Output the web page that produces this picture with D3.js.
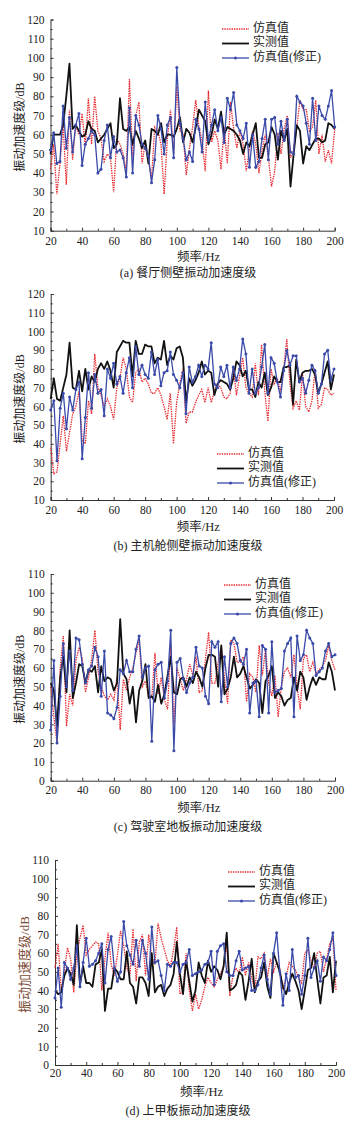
<!DOCTYPE html>
<html><head><meta charset="utf-8">
<script src="https://cdn.jsdelivr.net/npm/d3@7"></script>
<style>
html,body{margin:0;padding:0;background:#fff;}
svg{display:block;}
</style></head>
<body>
<svg id="chart" width="358" height="1130"></svg>
<script>
const freqs = [20,22,24,26,28,30,32,34,36,38,40,42,44,46,48,50,52,54,56,58,60,62,64,66,68,70,72,74,76,78,80,82,84,86,88,90,92,94,96,98,100,102,104,106,108,110,112,114,116,118,120,122,124,126,128,130,132,134,136,138,140,142,144,146,148,150,152,154,156,158,160,162,164,166,168,170,172,174,176,178,180,182,184,186,188,190,192,194,196,198,200];
const xTicks = [20,40,60,80,100,120,140,160,180,200];
const seriesNames = ["仿真值","实测值","仿真值(修正)"];

// Panel (a)
const aSim  = [42,55,29,45,65,34,73,47,65,60,71,54,79,55,80,62,58,46,50,48,30,58,55,50,41,89,48,70,77,45,56,47,37,64,62,55,29,58,73,50,85,62,60,39,53,64,78,64,57,41,83,56,62,57,42,64,45,77,63,53,62,55,41,53,62,55,40,52,60,48,33,41,61,50,63,70,48,52,64,78,73,73,62,64,78,50,60,46,52,45,63];
const aMeas = [50,60,60,60,65,80,97,63,65,62,59,60,67,63,62,56,58,60,63,66,53,55,79,63,62,64,55,62,58,53,57,45,63,62,60,66,56,60,60,59,63,69,56,63,61,56,64,73,70,67,55,60,68,63,72,60,64,63,62,60,57,50,56,54,60,66,48,48,55,56,64,60,47,62,57,63,33,50,65,62,45,54,52,55,58,58,56,57,66,65,63];
const aCorr = [52,61,45,46,75,53,69,51,65,71,44,55,58,62,60,40,42,57,65,48,59,51,52,48,38,74,40,70,65,55,53,49,35,47,70,63,50,65,69,48,95,66,58,47,51,46,68,63,51,77,57,65,73,62,69,56,79,73,82,65,62,58,66,43,60,43,46,58,68,47,68,69,55,67,57,68,51,50,80,77,75,66,55,79,57,75,70,68,75,83,64];

// Panel (b)
const bSim  = [38,24,25,40,55,36,46,56,60,68,42,40,63,56,88,70,66,60,64,60,53,70,75,86,80,65,62,78,80,73,75,72,67,67,70,66,60,53,67,40,62,72,80,51,57,57,62,66,69,62,70,62,68,72,70,65,64,67,81,66,76,86,70,67,65,83,66,93,68,52,80,72,75,68,80,96,72,59,63,58,77,60,57,63,80,59,61,70,69,66,67];
const bMeas = [64,75,64,63,70,77,94,70,69,79,68,80,69,76,73,80,83,80,84,79,70,89,92,95,94,94,76,95,88,88,93,92,92,83,86,85,95,82,87,85,91,92,86,62,75,71,74,78,84,77,79,78,66,72,74,73,72,69,75,84,82,76,79,69,69,65,73,70,78,66,70,76,73,73,81,81,82,61,85,73,78,79,79,80,77,67,72,78,84,69,77];
const bCorr = [58,63,31,59,67,48,65,58,69,73,32,54,78,59,77,67,69,55,80,75,83,72,76,67,78,86,70,92,77,82,77,75,89,77,85,71,78,79,89,77,74,70,78,56,81,73,76,82,76,82,80,94,72,70,81,76,82,70,81,74,80,96,88,67,80,67,70,81,93,67,86,83,73,65,79,90,82,87,87,73,75,67,74,82,79,67,72,88,90,74,80];

// Panel (c)
const cSim  = [50,34,20,60,77,29,46,40,64,71,65,47,55,65,80,58,50,45,43,46,43,55,27,54,48,55,60,68,75,50,53,45,44,68,46,55,43,38,73,30,60,54,48,54,62,56,66,47,48,65,79,52,52,63,71,55,41,75,73,63,63,66,42,57,55,47,72,56,70,52,45,56,34,50,58,60,55,67,50,38,65,67,58,63,57,59,61,64,72,64,59];
const cMeas = [52,48,29,55,66,47,80,44,52,62,61,52,59,58,61,47,61,53,55,54,48,52,86,57,54,41,50,31,48,53,62,44,45,42,51,41,46,56,66,47,46,54,55,50,55,52,58,55,50,60,67,67,66,50,72,46,49,55,66,55,57,61,55,49,51,54,52,36,53,56,61,44,47,45,40,43,44,55,48,58,55,43,50,55,51,55,54,54,63,58,48];
const cCorr = [27,64,20,45,73,50,69,48,76,75,62,52,59,61,71,66,45,69,36,35,33,39,59,57,64,58,58,70,77,55,60,61,21,59,62,63,44,53,80,16,63,65,54,47,52,55,71,61,60,45,41,74,71,74,42,66,50,73,76,73,64,62,70,36,52,53,34,72,70,36,74,47,48,49,69,73,76,34,77,64,67,80,76,73,56,58,60,69,73,66,67];

// Panel (d)
const dSim  = [52,65,40,50,63,57,39,60,68,75,59,62,64,66,65,40,57,71,54,48,59,72,64,52,48,73,45,66,70,48,70,58,54,76,68,62,56,53,62,74,38,40,60,40,29,38,30,35,42,47,44,42,46,49,53,65,37,48,52,49,58,48,55,47,40,58,57,60,47,57,50,55,52,40,47,55,53,51,47,44,60,62,56,52,60,61,50,57,65,68,40];
const dMeas = [40,38,39,48,52,49,43,75,43,53,44,44,42,54,55,62,29,41,41,52,50,46,46,61,44,42,33,47,47,44,37,60,39,42,43,37,41,43,49,66,49,38,56,45,34,40,55,48,44,56,50,53,51,46,53,71,40,41,43,50,48,35,45,57,39,45,47,55,42,36,60,55,50,42,38,44,49,45,40,30,40,51,52,60,46,33,47,48,58,39,56];
const dCorr = [36,52,31,55,52,46,52,64,42,55,68,53,54,56,60,65,44,62,69,52,45,50,77,64,59,54,67,53,67,60,46,74,55,56,48,40,54,53,55,55,50,54,55,62,48,49,50,51,54,55,61,43,61,64,65,50,48,48,56,61,51,52,53,40,40,43,52,59,46,38,60,71,50,32,49,40,62,47,48,38,48,68,47,52,56,45,58,56,62,71,48];

const panels = [
  {sim:aSim, meas:aMeas, corr:aCorr, yMin:10, yMax:120, yTicks:[10,20,30,40,50,60,70,80,90,100,110,120],
   x0:50.5, x1:334.7, yTop:19.5, yBot:230.7, tickLblY:242, titleY:258, capY:274,
   caption:"(a) 餐厅侧壁振动加速度级", legX:222, legY:29, yTitleX:21, yTitleSize:12, yTitleColor:"#222"},
  {sim:bSim, meas:bMeas, corr:bCorr, yMin:10, yMax:120, yTicks:[10,20,30,40,50,60,70,80,90,100,110,120],
   x0:50.7, x1:334, yTop:294, yBot:500, tickLblY:511, titleY:528, capY:547,
   caption:"(b) 主机舱侧壁振动加速度级", legX:217, legY:454, yTitleX:21, yTitleSize:12, yTitleColor:"#222"},
  {sim:cSim, meas:cMeas, corr:cCorr, yMin:0, yMax:110, yTicks:[0,10,20,30,40,50,60,70,80,90,100,110],
   x0:50.7, x1:335, yTop:574, yBot:780.7, tickLblY:791, titleY:809, capY:828,
   caption:"(c) 驾驶室地板振动加速度级", legX:224, legY:585, yTitleX:21, yTitleSize:12, yTitleColor:"#222"},
  {sim:dSim, meas:dMeas, corr:dCorr, yMin:0, yMax:110, yTicks:[0,10,20,30,40,50,60,70,80,90,100,110],
   x0:55, x1:336, yTop:860, yBot:1065, tickLblY:1074, titleY:1093, capY:1112,
   caption:"(d) 上甲板振动加速度级", legX:228, legY:872, yTitleX:26, yTitleSize:13, yTitleColor:"#7a4a35"}
];

const RED = "#e8282e", BLACK = "#111", BLUE = "#3a4aa8";
const serif = "'Liberation Serif','Times New Roman',serif";
const cjk = "'Liberation Serif','Noto Sans CJK SC',serif";

const svg = d3.select("#chart");

panels.forEach(p => {
  const x = d3.scaleLinear().domain([20,200]).range([p.x0, p.x1]);
  const y = d3.scaleLinear().domain([p.yMin, p.yMax]).range([p.yBot, p.yTop]);
  const g = svg.append("g");

  // Axes
  const yAxis = d3.axisLeft(y).tickValues(p.yTicks).tickSize(-3).tickPadding(6).tickFormat(d3.format("d"));
  const ya = g.append("g").attr("transform",`translate(${p.x0},0)`).call(yAxis);
  const yMinor = d3.axisLeft(y).tickValues(p.yTicks.slice(0,-1).map(v=>v+5)).tickSize(-2).tickFormat("");
  const ym = g.append("g").attr("transform",`translate(${p.x0},0)`).call(yMinor);
  ym.select(".domain").remove();

  const xAxis = d3.axisBottom(x).tickValues(xTicks).tickSize(-3).tickPadding(5).tickFormat(d3.format("d"));
  const xa = g.append("g").attr("transform",`translate(0,${p.yBot})`).call(xAxis);
  const xMinor = d3.axisBottom(x).tickValues([30,50,70,90,110,130,150,170,190]).tickSize(-2).tickFormat("");
  const xm = g.append("g").attr("transform",`translate(0,${p.yBot})`).call(xMinor);
  xm.select(".domain").remove();

  [ya,ym,xa,xm].forEach(a=>{
    a.selectAll(".domain").attr("stroke","#333").attr("stroke-width",1);
    a.selectAll(".tick line").attr("stroke","#333").attr("stroke-width",1);
    a.selectAll(".tick text").attr("fill","#222").style("font-family",serif).style("font-size","11.5px");
  });
  xa.selectAll(".tick text").attr("dy",null).attr("y",null)
    .attr("transform",`translate(0,${p.tickLblY - p.yBot})`).attr("dominant-baseline","middle");

  // Lines
  const line = d3.line().x((d,i)=>x(freqs[i])).y(d=>y(d));
  g.append("path").datum(p.sim).attr("d",line).attr("fill","none")
    .attr("stroke",RED).attr("stroke-width",1.3).attr("stroke-dasharray","1.4,1");
  g.append("path").datum(p.meas).attr("d",line).attr("fill","none")
    .attr("stroke",BLACK).attr("stroke-width",1.8).attr("stroke-linejoin","round");
  g.append("path").datum(p.corr).attr("d",line).attr("fill","none")
    .attr("stroke",BLUE).attr("stroke-width",1.3);
  g.append("g").selectAll("circle").data(p.corr).join("circle")
    .attr("cx",(d,i)=>x(freqs[i])).attr("cy",d=>y(d)).attr("r",1.5).attr("fill",BLUE);

  // Legend
  const styles = [
    {stroke:RED, w:1.3, dash:"1.4,1", marker:false},
    {stroke:BLACK, w:1.8, dash:null, marker:false},
    {stroke:BLUE, w:1.3, dash:null, marker:true}
  ];
  seriesNames.forEach((name,i)=>{
    const ly = p.legY + i*14.5;
    g.append("line").attr("x1",p.legX).attr("x2",p.legX+27).attr("y1",ly).attr("y2",ly)
      .attr("stroke",styles[i].stroke).attr("stroke-width",styles[i].w)
      .attr("stroke-dasharray",styles[i].dash);
    if (styles[i].marker) g.append("circle").attr("cx",p.legX+13.5).attr("cy",ly).attr("r",1.5).attr("fill",BLUE);
    g.append("text").attr("x",p.legX+31).attr("y",ly).attr("dominant-baseline","middle")
      .style("font-family",cjk).style("font-size","12px").attr("fill","#222").text(name);
  });

  // Titles
  g.append("text").attr("x",(p.x0+p.x1)/2+6).attr("y",p.titleY).attr("text-anchor","middle")
    .attr("dominant-baseline","middle").style("font-family",cjk).style("font-size","12.5px").attr("fill","#222").text("频率/Hz");
  const cy = (p.yTop+p.yBot)/2 + 2;
  g.append("text").attr("transform",`translate(${p.yTitleX},${cy}) rotate(-90)`).attr("text-anchor","middle")
    .attr("dominant-baseline","middle").style("font-family",cjk).style("font-size",p.yTitleSize+"px").attr("fill",p.yTitleColor).text("振动加速度级/dB");
  g.append("text").attr("x",188).attr("y",p.capY).attr("text-anchor","middle")
    .attr("dominant-baseline","middle").style("font-family",cjk).style("font-size","12px").attr("fill","#222").text(p.caption);
});
</script>
</body></html>
